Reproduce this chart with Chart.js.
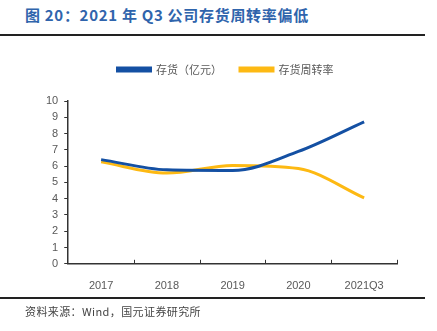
<!DOCTYPE html>
<html>
<head>
<meta charset="utf-8">
<script src="https://cdn.jsdelivr.net/npm/chart.js@4"></script>
<style>
  body { margin: 0; width: 437px; height: 331px; background: #fff; position: relative; overflow: hidden;
         font-family: "Noto Sans CJK SC", "Liberation Sans", sans-serif; }
  #title { position: absolute; left: 25px; top: 4px; font-size: 15px; font-weight: bold; color: #2F64AC; letter-spacing: 0.7px; }
  #rule1 { position: absolute; left: 0; top: 34px; width: 425px; height: 2px; background: #222; }
  #rule2 { position: absolute; left: 0; top: 297px; width: 425px; height: 2px; background: #222; }
  #source { position: absolute; left: 25px; top: 303px; font-size: 11px; color: #444; letter-spacing: 0.4px; }
  #wrap { position: absolute; left: 0; top: 45px; width: 425px; height: 256px; }
</style>
</head>
<body>
<div id="title">图 20：2021 年 Q3 公司存货周转率偏低</div>
<div id="rule1"></div>
<div id="wrap"><canvas id="chart"></canvas></div>
<div id="rule2"></div>
<div id="source">资料来源：Wind，国元证券研究所</div>
<script>
// 数据
const categories = ['2017', '2018', '2019', '2020', '2021Q3'];
const inventory = [6.4, 5.77, 5.73, 6.9, 8.72];
const turnover = [6.26, 5.57, 6.04, 5.85, 4.05];

// 图例与绘图区之间留空，图例略向右移
const legendGap = {
  id: 'legendGap',
  beforeInit(chart) {
    const fit = chart.legend.fit;
    chart.legend.fit = function () {
      fit.bind(chart.legend)();
      this.height += 16;
    };
  },
  afterLayout(chart) {
    chart.legend.left += 7;
    chart.legend.right += 7;
  }
};

// x轴向内的刻度线
const innerTicks = {
  id: 'innerTicks',
  afterDraw(chart) {
    const x = chart.scales.x, c = chart.ctx;
    const y0 = chart.chartArea.bottom;
    c.save();
    c.strokeStyle = '#333';
    c.lineWidth = 1;
    for (let i = 0; i < categories.length; i++) {
      const px = Math.round(x.getPixelForTick(i) + (x.getPixelForTick(1) - x.getPixelForTick(0)) / 2) + 0.5;
      c.beginPath();
      c.moveTo(px, y0);
      c.lineTo(px, y0 - 4);
      c.stroke();
    }
    c.restore();
  }
};

const ctx = document.getElementById('chart').getContext('2d');
new Chart(ctx, {
  type: 'line',
  data: {
    labels: categories,
    datasets: [{
      label: '存货（亿元）',
      data: inventory,
      borderColor: '#1450A3',
      backgroundColor: '#1450A3',
      borderWidth: 3,
      pointRadius: 0,
      cubicInterpolationMode: 'monotone'
    }, {
      label: '存货周转率',
      data: turnover,
      borderColor: '#FDB913',
      backgroundColor: '#FDB913',
      borderWidth: 3,
      pointRadius: 0,
      cubicInterpolationMode: 'monotone'
    }]
  },
  options: {
    responsive: true,
    maintainAspectRatio: false,
    animation: false,
    layout: { padding: { left: 40, right: 28, top: 1, bottom: 0 } },
    plugins: {
      legend: {
        labels: {
          boxWidth: 33,
          boxHeight: 3,
          padding: 18,
          color: '#595959',
          font: { size: 11, family: '"Noto Sans CJK SC", sans-serif' }
        }
      },
      tooltip: { enabled: false }
    },
    scales: {
      x: {
        offset: true,
        grid: { display: false, offset: true },
        border: { color: '#333', width: 1.5 },
        ticks: { color: '#595959', font: { size: 11, family: '"Liberation Sans", sans-serif' }, padding: 8 }
      },
      y: {
        min: 0,
        max: 10,
        ticks: { stepSize: 1, autoSkip: false, color: '#595959', font: { size: 11, family: '"Liberation Sans", sans-serif' }, padding: 6 },
        grid: { drawOnChartArea: false, drawTicks: true, tickLength: 4, color: '#333' },
        border: { color: '#333', width: 1.5 }
      }
    }
  },
  plugins: [legendGap, innerTicks]
});
</script>
</body>
</html>
